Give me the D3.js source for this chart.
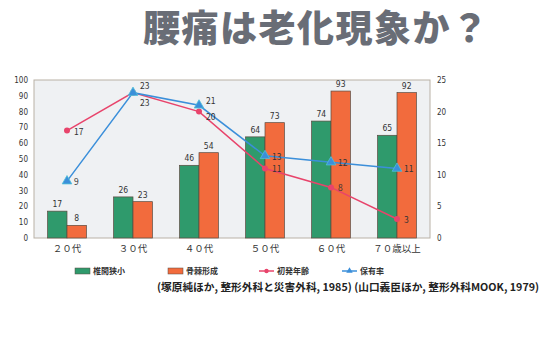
<!DOCTYPE html>
<html>
<head>
<meta charset="utf-8">
<script src="https://cdn.jsdelivr.net/npm/d3@7"></script>
<style>
body { margin: 0; background: #fff; }
text { font-family: "Noto Sans CJK JP", sans-serif; }
</style>
</head>
<body>
<script>
// data
var ages = ["２０代", "３０代", "４０代", "５０代", "６０代", "７０歳以上"];
var narrowing = [17, 26, 46, 64, 74, 65];   // 椎間狭小
var osteophyte = [8, 23, 54, 73, 93, 92];   // 骨棘形成
var onsetAge = [17, 23, 20, 11, 8, 3];      // 初発年齢 (right axis)
var prevalence = [9, 23, 21, 13, 12, 11];   // 保有率 (right axis)
var leftTicks = d3.range(0, 101, 10);
var rightTicks = d3.range(0, 26, 5);

var W = 552, H = 363;
var m = {left: 34, right: 122, top: 80, bottom: 125};
var numFont = "'Liberation Sans Narrow', 'DejaVu Sans Condensed', sans-serif";

var svg = d3.select("body").append("svg").attr("width", W).attr("height", H);

// title
svg.append("text").attr("x", 143).attr("y", 42)
  .style("font-size", "37px").style("font-weight", "900").style("fill", "#696d76")
  .style("letter-spacing", "1.5px")
  .text("腰痛は老化現象か？");

var x = d3.scaleBand().domain(ages).range([m.left, W - m.right]);
var yL = d3.scaleLinear().domain([0, 100]).range([H - m.bottom, m.top]);
var yR = d3.scaleLinear().domain([0, 25]).range([H - m.bottom, m.top]);
var bx = d3.scaleBand().domain(["a", "b"]).range([0, x.bandwidth()]).paddingOuter(0.7);

// plot background
svg.append("rect").attr("x", m.left).attr("y", m.top)
  .attr("width", W - m.right - m.left).attr("height", H - m.bottom - m.top)
  .style("fill", "#eff1f3").style("stroke", "#b9b1a6");

// axes
var axL = svg.append("g").attr("transform", "translate(" + m.left + ",0)")
  .call(d3.axisLeft(yL).tickValues(leftTicks).tickSize(0).tickPadding(6));
var axR = svg.append("g").attr("transform", "translate(" + (W - m.right) + ",0)")
  .call(d3.axisRight(yR).tickValues(rightTicks).tickSize(0).tickPadding(7));
[axL, axR].forEach(function(a) {
  a.select(".domain").remove();
  a.selectAll("text").style("font-size", "8px").style("fill", "#333")
    .style("font-family", numFont);
});
var axB = svg.append("g").attr("transform", "translate(0," + (H - m.bottom) + ")")
  .call(d3.axisBottom(x).tickSize(0).tickPadding(7));
axB.select(".domain").remove();
axB.selectAll("text").style("font-size", "9.5px").style("fill", "#333");

// bars
var bars = svg.append("g");
ages.forEach(function(a, i) {
  [[narrowing[i], "a", "#2f9a6c"], [osteophyte[i], "b", "#f26b3d"]].forEach(function(d) {
    bars.append("rect")
      .attr("x", x(a) + bx(d[1])).attr("width", bx.bandwidth())
      .attr("y", yL(d[0])).attr("height", yL(0) - yL(d[0]))
      .style("fill", d[2]).style("stroke", "#5a4a40").style("stroke-width", 0.7);
    bars.append("text")
      .attr("x", x(a) + bx(d[1]) + bx.bandwidth() / 2).attr("y", yL(d[0]) - 4)
      .attr("text-anchor", "middle")
      .style("font-size", "8.5px").style("fill", "#333")
      .style("font-family", numFont)
      .text(d[0]);
  });
});

var cx = function(d, i) { return x(ages[i]) + x.bandwidth() / 2; };

// lines
var line = d3.line().x(cx).y(function(d) { return yR(d); });
svg.append("path").datum(onsetAge).attr("d", line)
  .style("fill", "none").style("stroke", "#e8446b").style("stroke-width", 1.5);
svg.append("path").datum(prevalence).attr("d", line)
  .style("fill", "none").style("stroke", "#3b8fda").style("stroke-width", 1.5);

svg.selectAll(".dot").data(onsetAge).enter().append("circle")
  .attr("cx", cx).attr("cy", function(d) { return yR(d); }).attr("r", 3)
  .style("fill", "#e8446b");
svg.selectAll(".tri").data(prevalence).enter().append("path")
  .attr("d", d3.symbol().type(d3.symbolTriangle).size(40))
  .attr("transform", function(d, i) { return "translate(" + cx(d, i) + "," + yR(d) + ")"; })
  .style("fill", "#3b8fda").style("stroke", "#4fc0d8").style("stroke-width", 0.8);

// line labels (offsets so they don't collide)
var redDy = [4, 13, 8, 4, 4, 4];
var blueDy = [4, -4, -1, 4, 4, 4];
var lbl = svg.append("g")
  .style("font-size", "8.5px").style("fill", "#333")
  .style("font-family", numFont);
onsetAge.forEach(function(d, i) {
  lbl.append("text").attr("x", cx(d, i) + 7).attr("y", yR(d) + redDy[i]).text(d);
});
prevalence.forEach(function(d, i) {
  lbl.append("text").attr("x", cx(d, i) + 7).attr("y", yR(d) + blueDy[i]).text(d);
});

// legend
var leg = svg.append("g").attr("transform", "translate(0,271)");
var legItems = [
  {name: "椎間狭小", x: 75, type: "box", color: "#2f9a6c"},
  {name: "骨棘形成", x: 168, type: "box", color: "#f26b3d"},
  {name: "初発年齢", x: 259, type: "dot", color: "#e8446b"},
  {name: "保有率", x: 342, type: "tri", color: "#3b8fda"}
];
legItems.forEach(function(d) {
  if (d.type == "box") {
    leg.append("rect").attr("x", d.x).attr("y", -3).attr("width", 15).attr("height", 6)
      .style("fill", d.color).style("stroke", "#5a4a40").style("stroke-width", 0.5);
  } else {
    leg.append("line").attr("x1", d.x).attr("x2", d.x + 15)
      .style("stroke", d.color).style("stroke-width", 1.5);
    if (d.type == "dot") {
      leg.append("circle").attr("cx", d.x + 7.5).attr("r", 2.2).style("fill", d.color);
    } else {
      leg.append("path").attr("d", d3.symbol().type(d3.symbolTriangle).size(18))
        .attr("transform", "translate(" + (d.x + 7.5) + ",0)").style("fill", d.color);
    }
  }
  leg.append("text").attr("x", d.x + 18).attr("y", 3)
    .style("font-size", "8px").style("font-weight", "bold").style("fill", "#333").text(d.name);
});

// source
svg.append("text").attr("x", 157).attr("y", 291)
  .style("font-size", "10.7px").style("font-weight", "bold").style("fill", "#222")
  .text("(塚原純ほか, 整形外科と災害外科, 1985) (山口義臣ほか, 整形外科MOOK, 1979)");
</script>
</body>
</html>
